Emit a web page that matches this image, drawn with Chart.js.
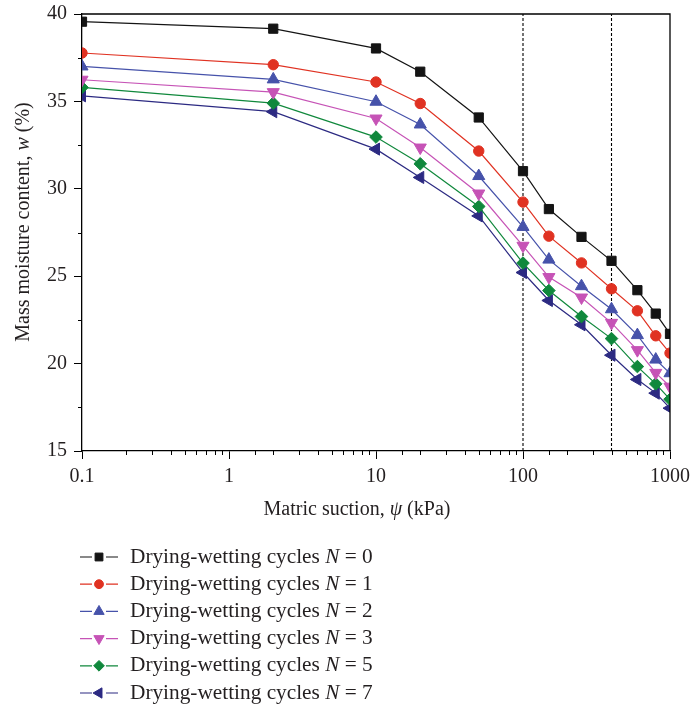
<!DOCTYPE html>
<html>
<head>
<meta charset="utf-8">
<script src="https://cdn.jsdelivr.net/npm/chart.js@4.4.1/dist/chart.umd.min.js"></script>
<style>
  html, body { margin: 0; padding: 0; background: #fff; }
</style>
</head>
<body>
<canvas id="suctionChart" width="690" height="705"></canvas>
<script>
// matric suction (kPa) and moisture content (%) for each number of drying-wetting cycles
var suction = [0.1, 2, 10, 20, 50, 100, 150, 250, 400, 600, 800, 1000];
var cycles = [0, 1, 2, 3, 5, 7];
var moistN0 = [39.56, 39.16, 38.03, 36.70, 34.08, 31.01, 28.84, 27.25, 25.88, 24.20, 22.86, 21.70];
var moistN1 = [37.77, 37.10, 36.11, 34.88, 32.16, 29.24, 27.29, 25.76, 24.28, 23.02, 21.59, 20.60];
var moistN2 = [37.00, 36.26, 34.98, 33.68, 30.73, 27.82, 25.95, 24.43, 23.11, 21.63, 20.23, 19.45];
var moistN3 = [36.24, 35.53, 34.02, 32.36, 29.73, 26.74, 24.95, 23.78, 22.33, 20.77, 19.47, 18.68];
var moistN5 = [35.80, 34.90, 32.96, 31.43, 28.99, 25.75, 24.18, 22.69, 21.43, 19.83, 18.84, 17.96];
var moistN7 = [35.32, 34.41, 32.27, 30.65, 28.45, 25.21, 23.61, 22.22, 20.48, 19.09, 18.31, 17.45];
var xTickLabels = ['0.1', '1', '10', '100', '1000'];
var yTickLabels = ['15', '20', '25', '30', '35', '40'];
var guideSuction = [100, 400];

var moisture = [moistN0, moistN1, moistN2, moistN3, moistN5, moistN7];

var seriesStyle = [
    { color: '#141414', point: 'rect', radius: 6.5, rotation: 0 },
    { color: '#e03222', point: 'circle', radius: 5.2, rotation: 0 },
    { color: '#4652aa', point: 'triangle', radius: 7, rotation: 0 },
    { color: '#c653b6', point: 'triangle', radius: 7, rotation: 180 },
    { color: '#10883c', point: 'rectRot', radius: 6.3, rotation: 0 },
    { color: '#2c2a82', point: 'triangle', radius: 7, rotation: 270 }
];

var serif = '"Liberation Serif", "DejaVu Serif", serif';
var textColor = '#231f20';

var datasets = [];
moisture.forEach(function (arr, i) {
    var st = seriesStyle[i];
    datasets.push({
        label: 'Drying-wetting cycles N = ' + cycles[i],
        data: suction.map(function (x, k) { return { x: x, y: arr[k] }; }),
        borderColor: st.color,
        backgroundColor: st.color,
        borderWidth: 1.2,
        pointStyle: st.point,
        pointRadius: st.radius,
        pointRotation: st.rotation,
        pointBorderWidth: 1,
        pointBackgroundColor: st.color,
        pointBorderColor: st.color,
        tension: 0
    });
});
guideSuction.forEach(function (s) {
    datasets.push({
        label: 'guide',
        data: [{ x: s, y: 15 }, { x: s, y: 40 }],
        borderColor: '#000',
        borderWidth: 1.1,
        borderDash: [3, 2],
        pointRadius: 0
    });
});

function labelFor(list, value) {
    for (var i = 0; i < list.length; i++) {
        var n = Number(list[i]);
        if (Math.abs(n - value) < 1e-9 * Math.max(1, n)) return list[i];
    }
    return '';
}

// draws segments of text, some italic, centred on (0,0) of current transform
function drawMixed(ctx, parts, size) {
    var total = 0;
    parts.forEach(function (p) {
        ctx.font = (p.italic ? 'italic ' : '') + size + 'px ' + serif;
        p.w = ctx.measureText(p.t).width;
        total += p.w;
    });
    var x = -total / 2;
    parts.forEach(function (p) {
        ctx.font = (p.italic ? 'italic ' : '') + size + 'px ' + serif;
        ctx.fillText(p.t, x, 0);
        x += p.w;
    });
}

var extras = {
    id: 'extras',
    afterDraw: function (chart) {
        var ctx = chart.ctx;
        var area = chart.chartArea;
        var xs = chart.scales.x, ys = chart.scales.y;
        ctx.save();

        // top and right frame
        ctx.strokeStyle = '#000';
        ctx.lineWidth = 1.3;
        ctx.beginPath();
        ctx.moveTo(area.left, area.top);
        ctx.lineTo(area.right, area.top);
        ctx.lineTo(area.right, area.bottom);
        ctx.stroke();

        // minor ticks
        ctx.lineWidth = 1;
        ctx.beginPath();
        xs.ticks.forEach(function (t) {
            if (t.label) return;
            var px = Math.round(xs.getPixelForValue(t.value)) + 0.5;
            ctx.moveTo(px, area.bottom);
            ctx.lineTo(px, area.bottom + 4);
        });
        ys.ticks.forEach(function (t) {
            if (t.label) return;
            var py = Math.round(ys.getPixelForValue(t.value)) + 0.5;
            ctx.moveTo(area.left, py);
            ctx.lineTo(area.left - 4, py);
        });
        ctx.stroke();

        // axis titles
        ctx.fillStyle = textColor;
        ctx.textBaseline = 'middle';
        ctx.textAlign = 'left';
        ctx.save();
        ctx.translate(357, 510);
        drawMixed(ctx, [{ t: 'Matric suction, ' }, { t: '\u03c8', italic: true }, { t: ' (kPa)' }], 20);
        ctx.restore();
        ctx.save();
        ctx.translate(24, 222);
        ctx.rotate(-Math.PI / 2);
        drawMixed(ctx, [{ t: 'Mass moisture content, ' }, { t: 'w', italic: true }, { t: ' (%)' }], 20);
        ctx.restore();

        // legend
        seriesStyle.forEach(function (st, i) {
            var y = 557 + i * 27.2;
            ctx.strokeStyle = st.color;
            ctx.fillStyle = st.color;
            ctx.lineWidth = 1.2;
            ctx.beginPath();
            ctx.moveTo(80, y);
            ctx.lineTo(92, y);
            ctx.moveTo(106, y);
            ctx.lineTo(118, y);
            ctx.stroke();
            ctx.lineWidth = 1;
            Chart.helpers.drawPoint(ctx, {
                pointStyle: st.point,
                radius: st.radius * 0.85,
                rotation: st.rotation,
                borderWidth: 1
            }, 99, y);
            ctx.fillStyle = textColor;
            var x = 130;
            [{ t: 'Drying-wetting cycles ' }, { t: 'N', italic: true }, { t: ' = ' + cycles[i] }].forEach(function (p) {
                ctx.font = (p.italic ? 'italic ' : '') + '21.3px ' + serif;
                ctx.fillText(p.t, x, y);
                x += ctx.measureText(p.t).width;
            });
        });

        ctx.restore();
    }
};

var tickFont = { family: serif, size: 20 };

// keep the plot box fixed; tick labels may hang over its edges
function noOverhang(scale) {
    scale.paddingTop = 0;
    scale.paddingBottom = 0;
    scale.paddingLeft = 0;
    scale.paddingRight = 0;
}

new Chart(document.getElementById('suctionChart'), {
    type: 'line',
    data: { datasets: datasets },
    options: {
        responsive: false,
        animation: false,
        layout: { padding: { left: 0, right: 20, top: 14, bottom: 174 } },
        plugins: {
            legend: { display: false },
            tooltip: { enabled: false }
        },
        scales: {
            x: {
                type: 'logarithmic',
                min: 0.1,
                max: 1000,
                border: { display: true, color: '#000', width: 1.3 },
                grid: {
                    drawOnChartArea: false,
                    tickLength: 8,
                    tickWidth: 1,
                    tickColor: function (c) { return c.tick && c.tick.label ? '#000' : 'rgba(0,0,0,0)'; }
                },
                ticks: {
                    autoSkip: false,
                    maxRotation: 0,
                    padding: 6,
                    color: textColor,
                    font: tickFont,
                    callback: function (v) { return labelFor(xTickLabels, v); }
                },
                afterFit: function (scale) { scale.height = 80; noOverhang(scale); }
            },
            y: {
                min: 15,
                max: 40,
                border: { display: true, color: '#000', width: 1.3 },
                grid: {
                    drawOnChartArea: false,
                    tickLength: 8,
                    tickWidth: 1,
                    tickColor: function (c) { return c.tick && c.tick.label ? '#000' : 'rgba(0,0,0,0)'; }
                },
                ticks: {
                    stepSize: 2.5,
                    autoSkip: false,
                    padding: 7,
                    color: textColor,
                    font: tickFont,
                    callback: function (v) { return labelFor(yTickLabels, v); }
                },
                afterFit: function (scale) { scale.width = 82; noOverhang(scale); }
            }
        }
    },
    plugins: [extras]
});
</script>
</body>
</html>
